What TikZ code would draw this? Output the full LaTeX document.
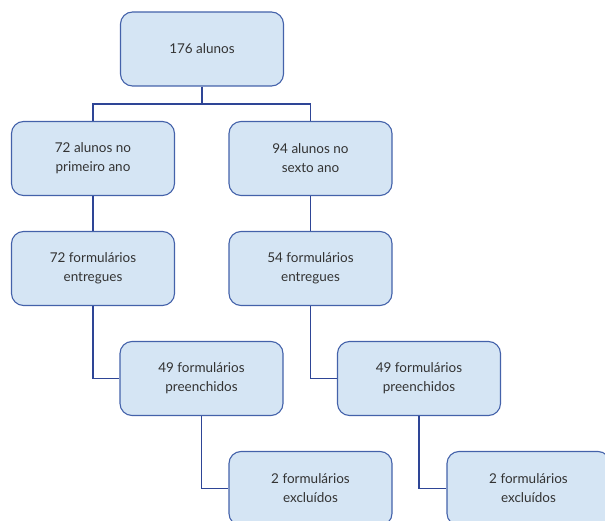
\documentclass[tikz,border=0pt]{standalone}
\usepackage{fontspec}
\setmainfont{Lato}
\definecolor{boxfill}{HTML}{D5E5F4}
\definecolor{boxdraw}{HTML}{4462AA}
\definecolor{linecol}{HTML}{2E4596}
\definecolor{txtcol}{HTML}{333333}
\begin{document}
\begin{tikzpicture}[x=1pt,y=-1pt,
  box/.style={draw=boxdraw, fill=boxfill, line width=1.1pt, rounded corners=12pt,
    minimum width=163pt, minimum height=74pt, inner sep=0pt, align=center,
    text=txtcol, font=\fontsize{13.5pt}{19pt}\selectfont},
  conn/.style={draw=linecol, line width=1.4pt}]
\useasboundingbox (0,0) rectangle (605,521);
\clip (0,0) rectangle (605,521);
\node[box] (a) at (202,49) {176 alunos};
\node[box] (b1) at (93,158.5) {72 alunos no\\primeiro ano};
\node[box] (b2) at (310.5,158.5) {94 alunos no\\sexto ano};
\node[box] (c1) at (93,268.5) {72 formulários\\entregues};
\node[box] (c2) at (310.5,268.5) {54 formulários\\entregues};
\node[box] (d1) at (201.5,378.5) {49 formulários\\preenchidos};
\node[box] (d2) at (419,378.5) {49 formulários\\preenchidos};
\node[box] (e1) at (310.5,488.5) {2 formulários\\excluídos};
\node[box] (e2) at (528.5,488.5) {2 formulários\\excluídos};
\coordinate (bar) at (0,104);
\draw[conn] (a.south) |- (bar -| b1.north) -- (b1.north);
\draw[conn] (a.south) |- (bar -| b2.north) -- (b2.north);
\draw[conn] (b1) -- (c1);
\draw[conn] (b2) -- (c2);
\draw[conn] (c1.south) |- (d1.west);
\draw[conn] (c2.south) |- (d2.west);
\draw[conn] (d1.south) |- (e1.west);
\draw[conn] (d2.south) |- (e2.west);
\end{tikzpicture}
\end{document}
